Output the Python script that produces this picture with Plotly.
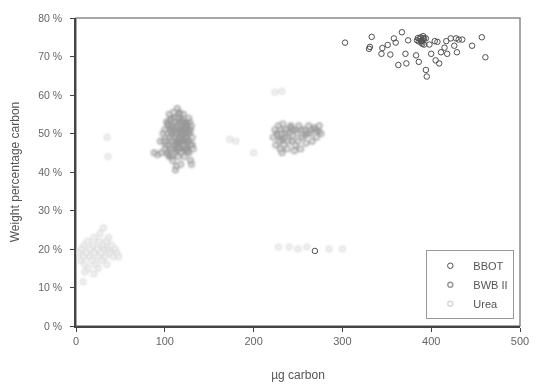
import plotly.graph_objects as go

# Carbon mass (µg) vs. weight percentage carbon for three standards

bbot_ug = [303, 333, 330, 331, 345, 344, 351, 354, 358, 360, 367, 371, 374, 363, 372,
           383, 386, 385, 389, 391, 392, 394, 398, 400, 404, 407, 405, 409, 411, 415,
           417, 418, 422, 426, 428, 429, 431, 435, 446, 457, 461, 394, 395,
           387, 388, 389, 390, 391, 386, 390, 392, 384, 269]
bbot_pct = [73.6, 75.1, 72.0, 72.5, 72.2, 70.7, 73.0, 70.5, 74.7, 73.6, 76.3, 70.7, 74.2, 67.8, 68.2,
            70.3, 68.6, 74.8, 74.0, 75.3, 73.1, 74.7, 73.1, 70.7, 74.0, 73.8, 69.0, 68.2, 71.1, 72.3,
            74.0, 70.7, 74.7, 72.8, 74.7, 71.1, 74.4, 74.4, 72.8, 75.0, 69.8, 66.5, 64.8,
            74.5, 75.0, 73.6, 74.3, 74.8, 73.9, 73.3, 74.6, 74.2, 19.5]

bwb_ug = [98, 99, 100, 100, 101, 102, 102, 103, 104, 104, 105, 105, 106, 107, 107,
          108, 108, 109, 109, 110, 110, 111, 111, 112, 112, 113, 113, 114, 114, 115,
          115, 116, 116, 117, 117, 118, 118, 119, 119, 120, 120, 121, 122, 122, 123,
          124, 124, 125, 126, 126, 127, 128, 129, 130, 130, 131, 132, 112, 113, 129,
          95, 96, 92, 88, 105, 110, 115, 121, 127,
          101, 103, 104, 106, 106, 107, 108, 109, 110, 111, 111, 112, 113, 114, 114,
          115, 116, 116, 117, 117, 118, 118, 119, 119, 120, 120, 121, 121, 122, 123,
          123, 124, 125, 125, 126, 127, 128, 128, 129, 131,
          222, 224, 225, 226, 228, 229, 230, 231, 233, 234, 235, 237, 238, 240, 242,
          243, 245, 247, 249, 251, 253, 255, 257, 259, 262, 264, 266, 268, 271, 274,
          276, 232, 246,
          227, 230, 232, 236, 239, 241, 244, 248, 250, 254, 258, 261, 265, 270, 273]
bwb_pct = [50, 48, 51, 46, 49, 53, 45, 50, 47, 52, 49, 44, 51, 48, 54,
           46, 50, 52, 43, 49, 47, 54, 51, 45, 49, 52, 47, 56.5, 50, 44,
           48, 53, 46, 50, 55, 42, 48, 51, 45, 53, 49, 47, 51, 44, 49,
           53, 46, 50, 48, 52, 45, 50, 47, 52, 42, 49, 46, 40.5, 41.5, 43,
           48, 45, 44.5, 45, 55, 55.5, 54, 55, 54,
           47, 52.5, 44.5, 46, 53.5, 50.5, 44, 48, 51.5, 46, 49, 53, 50, 45.5, 47.5,
           51, 49, 55.5, 47.5, 52.5, 45, 50.5, 53.5, 48, 46, 51, 53, 49.5, 48, 46,
           51.5, 49, 47.5, 52.5, 45.5, 50.5, 48, 53, 51, 47,
           49, 51, 47, 50, 52, 48, 46, 50, 52.5, 47, 49, 51, 46, 50, 52,
           48, 51, 47, 50, 52, 46, 49, 51, 47.5, 52, 50, 48, 51.5, 49, 52,
           50, 45, 45.5,
           49.5, 51, 48.5, 50, 48, 51.5, 49.5, 51, 48, 51, 49.5, 50, 51, 51, 50.5]

urea_ug = [3, 5, 6, 8, 9, 10, 12, 13, 14, 15, 16, 18, 19, 20, 21,
           22, 24, 25, 26, 27, 28, 29, 30, 31, 32, 33, 34, 35, 36, 37,
           38, 40, 42, 44, 46, 48, 8, 10, 20, 25,
           35, 36, 173, 180, 200, 224, 232, 228, 240, 250, 260, 285, 300]
urea_pct = [19, 17, 20, 18, 21, 16, 19, 22, 15, 18, 20, 17, 21, 23, 19,
            16, 20, 18, 22, 24, 19, 17, 21, 25.5, 20, 18, 22, 16, 20, 23,
            19, 21, 18, 20, 19, 18, 11.5, 14, 13.5, 15,
            49, 44, 48.5, 48, 45, 60.7, 61, 20.5, 20.5, 20, 20.5, 20, 20]

x_ticks = [0, 100, 200, 300, 400, 500]
y_ticks = [0, 10, 20, 30, 40, 50, 60, 70, 80]
y_tick_labels = [f"{v} %" for v in y_ticks]

FONT = "Arial, 'Liberation Sans', sans-serif"

fig = go.Figure()
fig.add_trace(go.Scatter(
    x=urea_ug, y=urea_pct, mode="markers", name="Urea",
    marker=dict(symbol="circle-open", size=5, color="#d8d8d8", line=dict(width=1.5)),
))
fig.add_trace(go.Scatter(
    x=bwb_ug, y=bwb_pct, mode="markers", name="BWB II",
    marker=dict(symbol="circle-open", size=5, color="#969696", line=dict(width=1.4)),
))
fig.add_trace(go.Scatter(
    x=bbot_ug, y=bbot_pct, mode="markers", name="BBOT",
    marker=dict(symbol="circle-open", size=5.5, color="#505050", line=dict(width=1)),
))

# light frame on the top and right sides of the plotting area
fig.add_shape(type="rect", xref="paper", yref="paper", x0=0, y0=0, x1=1, y1=1,
              line=dict(color="#8a8a8a", width=1.5), layer="below")

fig.update_layout(
    width=541, height=392,
    margin=dict(l=76, r=14, t=16, b=56),
    paper_bgcolor="white", plot_bgcolor="white",
    font=dict(family=FONT, color="#555555", size=11),
    showlegend=True,
    legend=dict(
        x=0.789, y=0.022, xanchor="left", yanchor="bottom",
        bordercolor="#9a9a9a", borderwidth=1, bgcolor="white",
        font=dict(size=11, color="#555555"),
        traceorder="reversed", itemwidth=36,
    ),
    xaxis=dict(
        range=[0, 500], tickvals=x_ticks, ticks="outside", ticklen=4,
        tickcolor="#444444", showline=True, linecolor="#444444", linewidth=1.5,
        showgrid=False, zeroline=False,
        title=dict(text="µg carbon", font=dict(size=12, color="#555555"), standoff=25),
        tickfont=dict(size=11, color="#666666"),
    ),
    yaxis=dict(
        range=[0, 80], tickvals=y_ticks, ticktext=y_tick_labels, ticks="outside",
        ticklen=4, tickcolor="#444444", showline=True, linecolor="#444444",
        linewidth=1.5, showgrid=False, zeroline=False, ticklabelstandoff=6,
        title=dict(text="Weight percentage carbon", font=dict(size=12, color="#555555"), standoff=16),
        tickfont=dict(size=10.5, color="#666666"),
    ),
)

# the dense Urea and BWB II clouds are drawn as soft smudges
soften = """
var traces = document.querySelectorAll('.scatterlayer .trace');
for (var i = 0; i < 2 && i < traces.length; i++) {
  traces[i].style.filter = 'blur(0.9px)';
}
"""

fig.write_html("out.html", post_script=soften)
